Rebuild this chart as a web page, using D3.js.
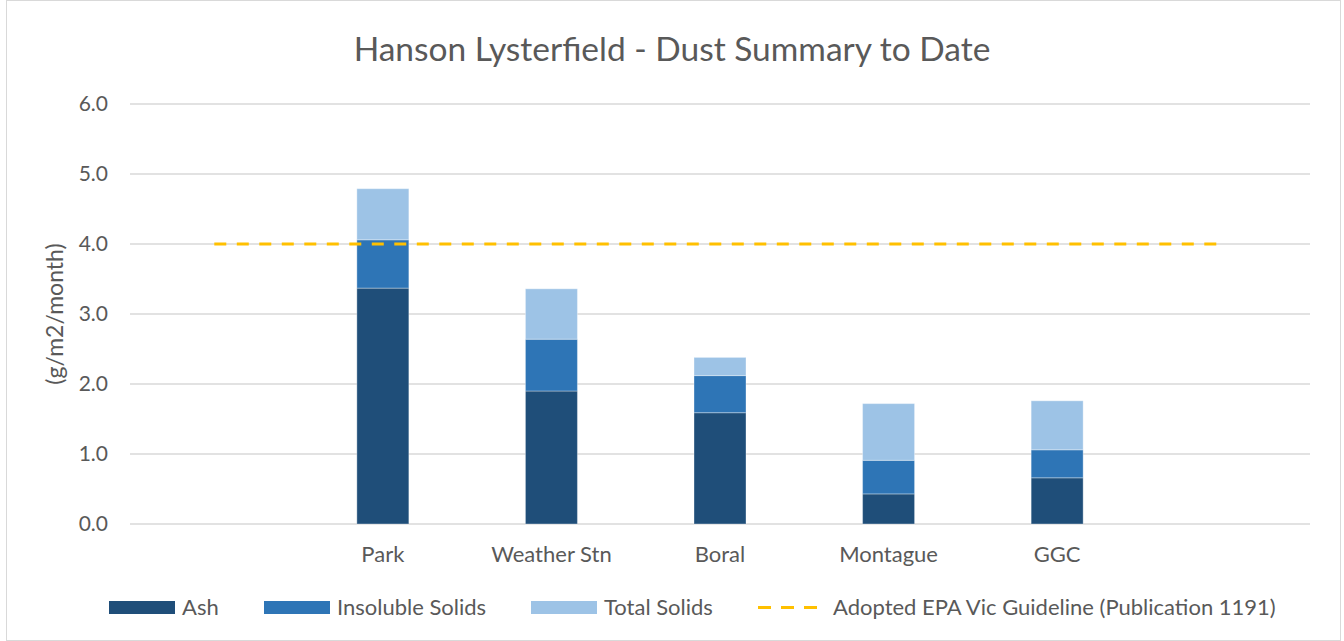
<!DOCTYPE html>
<html>
<head>
<meta charset="utf-8">
<script src="https://cdn.jsdelivr.net/npm/d3@7"></script>
<style>
  body { margin: 0; background: #fff; }
  svg { font-family: Lato, "Open Sans", sans-serif; }
</style>
</head>
<body>
<svg id="chart" width="1344" height="641"></svg>
<script>
// categories (empty slots at the ends, as in the source sheet)
const categories = ["", "Park", "Weather Stn", "Boral", "Montague", "GGC", " "];
const sites = ["Park", "Weather Stn", "Boral", "Montague", "GGC"];

// stacked segment values (g/m2/month)
const ash = [3.37, 1.90, 1.59, 0.43, 0.66];
const insoluble = [0.69, 0.74, 0.53, 0.48, 0.40];
const totalSolids = [0.73, 0.72, 0.26, 0.81, 0.70];

const guideline = 4.0;
const yTicks = [0, 1, 2, 3, 4, 5, 6];

const seriesNames = ["Ash", "Insoluble Solids", "Total Solids"];
const colours = ["#1F4E79", "#2E75B6", "#9DC3E6"];

const svg = d3.select("#chart");
const W = 1344, H = 641;
const margin = { top: 104, right: 34, bottom: 117, left: 130 };

// outer frame
svg.append("rect")
  .attr("x", 6.5).attr("y", 0.5)
  .attr("width", W - 10).attr("height", H - 1)
  .attr("fill", "#fff").attr("stroke", "#d9d9d9");

const xc = d3.scalePoint()
  .domain(categories)
  .range([margin.left, W - margin.right])
  .padding(0.5);

const y = d3.scaleLinear()
  .domain([0, 6])
  .range([H - margin.bottom, margin.top]);

// gridlines
svg.append("g")
  .selectAll("line")
  .data(yTicks)
  .join("line")
  .attr("x1", margin.left).attr("x2", W - margin.right)
  .attr("y1", d => y(d)).attr("y2", d => y(d))
  .attr("stroke", "#d9d9d9").attr("stroke-width", 1.3);

// y tick labels
svg.append("g")
  .selectAll("text")
  .data(yTicks)
  .join("text")
  .attr("x", 108).attr("y", d => y(d))
  .attr("dy", "0.35em")
  .attr("text-anchor", "end")
  .attr("fill", "#595959")
  .style("font-size", "21px")
  .text(d => d.toFixed(1));

// y axis title
svg.append("text")
  .attr("transform", `translate(63,${(y(0) + y(6)) / 2}) rotate(-90)`)
  .attr("text-anchor", "middle")
  .attr("fill", "#595959")
  .style("font-size", "23px")
  .text("(g/m2/month)");

// stacked data
const rows = sites.map((s, i) => ({ site: s, "Ash": ash[i], "Insoluble Solids": insoluble[i], "Total Solids": totalSolids[i] }));
const stack = d3.stack().keys(seriesNames)(rows);

const bw = 52;
svg.append("g")
  .selectAll("g")
  .data(stack)
  .join("g")
  .attr("fill", (d, i) => colours[i])
  .selectAll("rect")
  .data(d => d)
  .join("rect")
  .attr("x", d => xc(d.data.site) - bw / 2)
  .attr("y", d => y(d[1]))
  .attr("width", bw)
  .attr("height", d => y(d[0]) - y(d[1]))
  .attr("stroke", "rgba(255,255,255,0.35)")
  .attr("stroke-width", 1);

// guideline
svg.append("line")
  .attr("x1", xc(categories[0])).attr("x2", xc(categories[categories.length - 1]))
  .attr("y1", y(guideline)).attr("y2", y(guideline))
  .attr("stroke", "#FFC000").attr("stroke-width", 3)
  .attr("stroke-dasharray", "12,10.5");

// category labels
svg.append("g")
  .selectAll("text")
  .data(sites)
  .join("text")
  .attr("x", d => xc(d)).attr("y", 562)
  .attr("text-anchor", "middle")
  .attr("fill", "#595959")
  .style("font-size", "22px")
  .text(d => d);

// title
svg.append("text")
  .attr("x", 672).attr("y", 61)
  .attr("text-anchor", "middle")
  .attr("fill", "#595959")
  .style("font-size", "33.5px")
  .text("Hanson Lysterfield - Dust Summary to Date");

// legend
const legendY = 607.5;
const legendItems = [
  { name: "Ash", x: 109, type: "rect", colour: colours[0] },
  { name: "Insoluble Solids", x: 264, type: "rect", colour: colours[1] },
  { name: "Total Solids", x: 531, type: "rect", colour: colours[2] },
  { name: "Adopted EPA Vic Guideline (Publication 1191)", x: 758, type: "line", colour: "#FFC000" }
];
const lg = svg.append("g");
legendItems.forEach(it => {
  if (it.type === "rect") {
    lg.append("rect")
      .attr("x", it.x).attr("y", legendY - 6.5)
      .attr("width", 66).attr("height", 13)
      .attr("fill", it.colour);
    lg.append("text")
      .attr("x", it.x + 73).attr("y", legendY).attr("dy", "0.35em")
      .attr("fill", "#595959").style("font-size", "22px")
      .text(it.name);
  } else {
    lg.append("line")
      .attr("x1", it.x).attr("x2", it.x + 59)
      .attr("y1", legendY).attr("y2", legendY)
      .attr("stroke", it.colour).attr("stroke-width", 3)
      .attr("stroke-dasharray", "13,10");
    lg.append("text")
      .attr("x", it.x + 75).attr("y", legendY).attr("dy", "0.35em")
      .attr("fill", "#595959").style("font-size", "22px")
      .text(it.name);
  }
});
</script>
</body>
</html>
